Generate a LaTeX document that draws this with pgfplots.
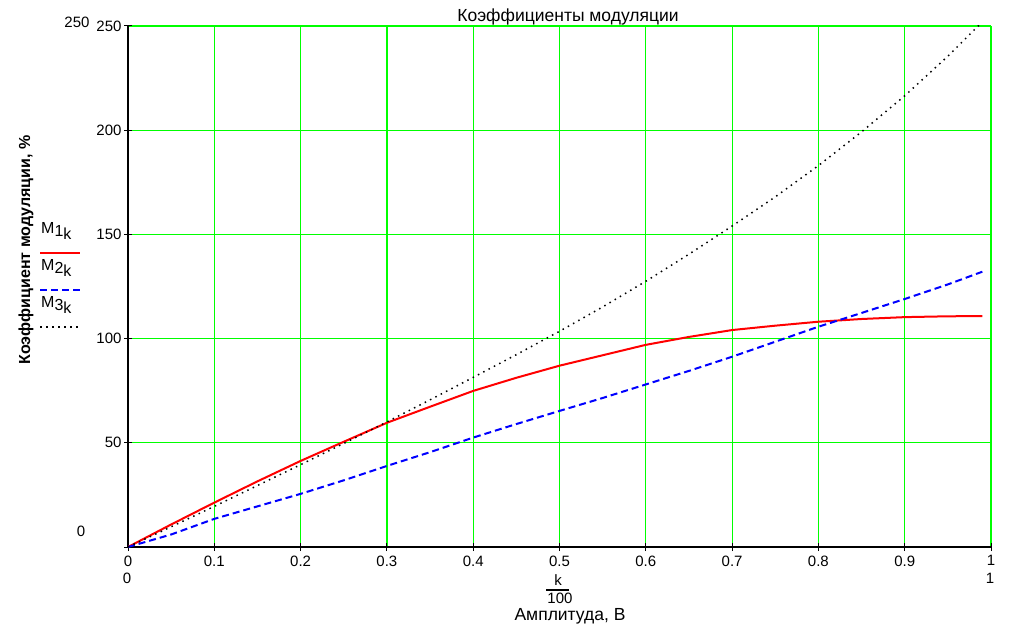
\documentclass[border=0pt]{standalone}
\usepackage{pgfplots}
\pgfplotsset{compat=1.18}
\usepackage{fontspec}
\setmainfont{Liberation Sans}
\definecolor{grn}{RGB}{0,255,0}
\begin{document}
\begin{tikzpicture}[x=1pt,y=1pt]
\begin{axis}[name=ax, at={(128pt,79pt)}, anchor=south west,
  scale only axis, width=863pt, height=521pt,
  xmin=0, xmax=1, ymin=0, ymax=250,
  xtick={0,0.1,0.2,0.3,0.4,0.5,0.6,0.7,0.8,0.9,1},
  xticklabels={0,0.1,0.2,0.3,0.4,0.5,0.6,0.7,0.8,0.9,1},
  ytick={0,50,100,150,200,250},
  yticklabels={,50,100,150,200,250},
  grid=major, major grid style={grn, line width=1.2pt},
  axis x line=bottom, axis y line=left,
  axis line style={-, black, line width=1.5pt},
  tick style={black, line width=1pt}, tick align=center, major tick length=8pt,
  ticklabel style={font=\fontsize{15}{15}\selectfont},
  xticklabel style={yshift=-1pt},
  yticklabel style={xshift=1pt},
  /pgf/number format/assume math mode=true,
]
\addplot[red, line width=2pt] coordinates {
(0,0) (0.05,10.8) (0.1,21.3) (0.15,31.5) (0.2,41.3) (0.25,50.5) (0.3,59.6)
(0.35,67.3) (0.4,74.9) (0.45,81.2) (0.5,87.0) (0.55,92.0) (0.6,97.0)
(0.65,100.8) (0.7,104.1) (0.75,106.2) (0.8,108.1) (0.85,109.4) (0.9,110.3)
(0.95,110.7) (0.99,110.8)};
\addplot[blue, line width=2pt, dash pattern=on 7pt off 4pt] coordinates {
(0,0) (0.05,6) (0.1,13.5) (0.15,19.5) (0.2,25.5) (0.25,32) (0.3,38.9)
(0.35,45.5) (0.4,52.5) (0.45,59) (0.5,65.3) (0.55,71.5) (0.6,78)
(0.65,84.5) (0.7,91.3) (0.75,98.5) (0.8,105.7) (0.85,112.3) (0.9,119)
(0.95,126) (0.99,132.1)};
\addplot[black, line width=1.5pt, dash pattern=on 1.5pt off 4.5pt] coordinates {
(0,0) (0.05,9.7) (0.1,19.5) (0.15,29.5) (0.2,39.5) (0.25,49.7) (0.3,60)
(0.35,70.6) (0.4,81.4) (0.45,92.3) (0.5,103.5) (0.55,115.2) (0.6,127.5)
(0.65,140.5) (0.7,154) (0.75,168) (0.8,183) (0.85,199.2) (0.9,216.5)
(0.95,235.5) (0.99,252)};
\end{axis}
% titles and labels
\node[font=\fontsize{17.5}{17.5}\selectfont] at (568,609) {Коэффициенты модуляции};
\node[font=\fontsize{15}{15}\selectfont] at (77,604) {250};
\node[font=\fontsize{15}{15}\selectfont] at (81,95) {0};
\node[font=\fontsize{15}{15}\selectfont] at (127,48) {0};
\node[font=\fontsize{15}{15}\selectfont] at (990,48) {1};
\node[font=\fontsize{15}{15}\selectfont, inner sep=0pt] at (558,46) {k};
\draw[black, line width=1.2pt] (546,36) -- (569,36);
\node[font=\fontsize{15}{15}\selectfont, inner sep=0pt] at (560,28) {100};
\node[font=\fontsize{17.5}{17.5}\selectfont, inner sep=0pt] at (570,10) {Амплитуда, В};
\node[font=\bfseries\fontsize{16}{16}\selectfont, rotate=90] at (26,376) {Коэффициент модуляции, \%};
% legend
\node[anchor=base west, inner sep=0pt, font=\fontsize{16}{16}\selectfont] at (41,392) {M\raisebox{-3pt}{1}\raisebox{-6pt}{k}};
\draw[red, line width=2pt] (40,373) -- (80,373);
\node[anchor=base west, inner sep=0pt, font=\fontsize{16}{16}\selectfont] at (41,355) {M\raisebox{-3pt}{2}\raisebox{-6pt}{k}};
\draw[blue, line width=2pt, dash pattern=on 7pt off 4pt] (40,336) -- (80,336);
\node[anchor=base west, inner sep=0pt, font=\fontsize{16}{16}\selectfont] at (41,318) {M\raisebox{-3pt}{3}\raisebox{-6pt}{k}};
\draw[black, line width=1.5pt, dash pattern=on 1.5pt off 4.5pt] (40,299) -- (80,299);
\pgfresetboundingbox
\path[use as bounding box] (0,0) rectangle (1019,626);
\end{tikzpicture}
\end{document}
